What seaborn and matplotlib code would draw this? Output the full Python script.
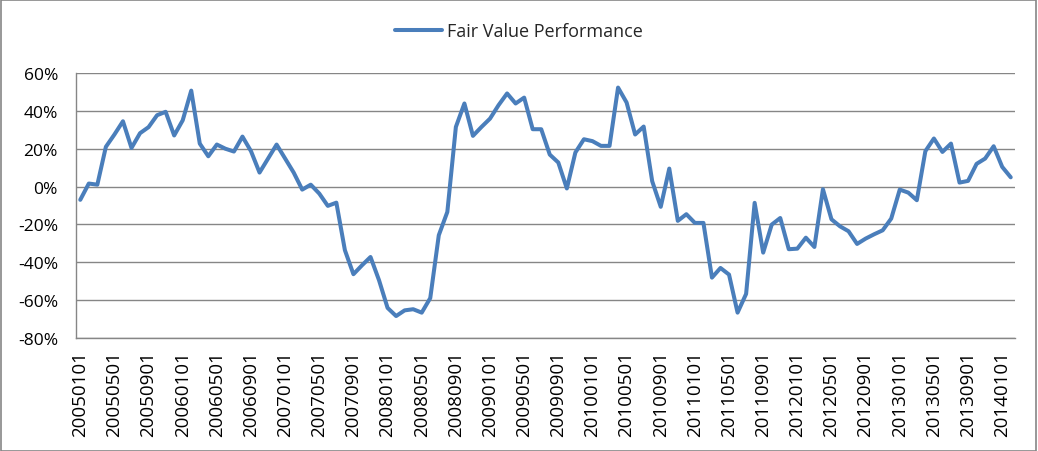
import matplotlib
matplotlib.use("Agg")
import matplotlib.pyplot as plt
from matplotlib.patches import Rectangle
from matplotlib.ticker import FuncFormatter, MultipleLocator
import seaborn as sns
import pandas as pd

# Monthly observation dates (first of month), Jan 2005 - Feb 2014
dates = list(pd.date_range("2005-01-01", periods=110, freq="MS").strftime("%Y%m%d"))

# Fair value performance, in percent
perf_2005 = [-7.0, 1.6, 1.0, 21.0, 27.5, 34.5, 20.4, 28.2, 31.4, 37.7, 39.5, 27.0]
perf_2006 = [35.0, 50.7, 22.7, 16.0, 22.2, 20.0, 18.5, 26.4, 18.7, 7.4, 14.8, 22.2]
perf_2007 = [14.8, 7.4, -1.6, 1.0, -3.7, -10.2, -8.5, -33.6, -46.3, -41.6, -37.2, -49.5]
perf_2008 = [-64.1, -68.4, -65.4, -64.8, -66.6, -58.9, -25.7, -13.4, 31.5, 43.9, 26.8, 31.5]
perf_2009 = [35.9, 43.0, 49.2, 43.9, 47.0, 30.3, 30.3, 16.9, 12.7, -1.0, 18.0, 25.0]
perf_2010 = [24.0, 21.5, 21.5, 52.3, 44.4, 27.5, 31.7, 2.8, -10.7, 9.5, -18.1, -14.6]
perf_2011 = [-19.2, -19.2, -48.1, -43.0, -46.5, -66.6, -56.7, -8.6, -34.9, -20.1, -16.6, -33.1]
perf_2012 = [-32.8, -27.0, -31.9, -1.4, -17.3, -21.0, -23.6, -30.3, -27.5, -25.2, -23.1, -16.9]
perf_2013 = [-1.6, -3.2, -7.2, 18.7, 25.4, 18.3, 22.7, 2.1, 3.0, 12.0, 14.8, 21.3]
perf_2014 = [10.4, 4.9]

values = (perf_2005 + perf_2006 + perf_2007 + perf_2008 + perf_2009 +
          perf_2010 + perf_2011 + perf_2012 + perf_2013 + perf_2014)

df = pd.DataFrame({"pos": range(len(dates)), "date": dates, "Fair Value Performance": values})

sns.set_theme(style="white")
plt.rcParams["font.family"] = ["Open Sans", "DejaVu Sans"]

fig = plt.figure(figsize=(10.38, 4.52), dpi=100)
ax = fig.add_axes([76 / 1038, 1 - 339 / 452, (1015 - 76) / 1038, (339 - 74) / 452])

sns.lineplot(data=df, x="pos", y="Fair Value Performance", ax=ax, color="#4A7EBB",
             linewidth=2.9, label="Fair Value Performance")

ax.set_xlim(-0.5, len(dates) - 0.5)
ax.set_ylim(-80, 60)
ax.yaxis.set_major_locator(MultipleLocator(20))
ax.yaxis.set_major_formatter(FuncFormatter(lambda v, p: f"{v:.0f}%"))
tick_pos = list(range(0, len(dates), 4))
ax.set_xticks(tick_pos)
ax.set_xticklabels([dates[i] for i in tick_pos], rotation=90)
ax.tick_params(axis="both", length=0, colors="black")
ax.tick_params(axis="y", labelsize=12.5, pad=13)
ax.tick_params(axis="x", labelsize=13.5, pad=9)
ax.set_xlabel("")
ax.set_ylabel("")
ax.grid(axis="y", color="#868686", linewidth=1.0)
ax.set_axisbelow(True)
for s in ["top", "right"]:
    ax.spines[s].set_visible(False)
for s in ["left", "bottom"]:
    ax.spines[s].set_color("#868686")
    ax.spines[s].set_linewidth(1.0)

leg = ax.legend(loc="center", bbox_to_anchor=(0.5, (452 - 32) / 452), bbox_transform=fig.transFigure,
                frameon=False, fontsize=13, handlelength=2.6, handletextpad=0.3)

fig.patches.append(Rectangle((0.0005, 0.001), 0.998, 0.997, transform=fig.transFigure,
                             fill=False, edgecolor="#868686", linewidth=1.2))

fig.savefig("out.png", dpi=100)
